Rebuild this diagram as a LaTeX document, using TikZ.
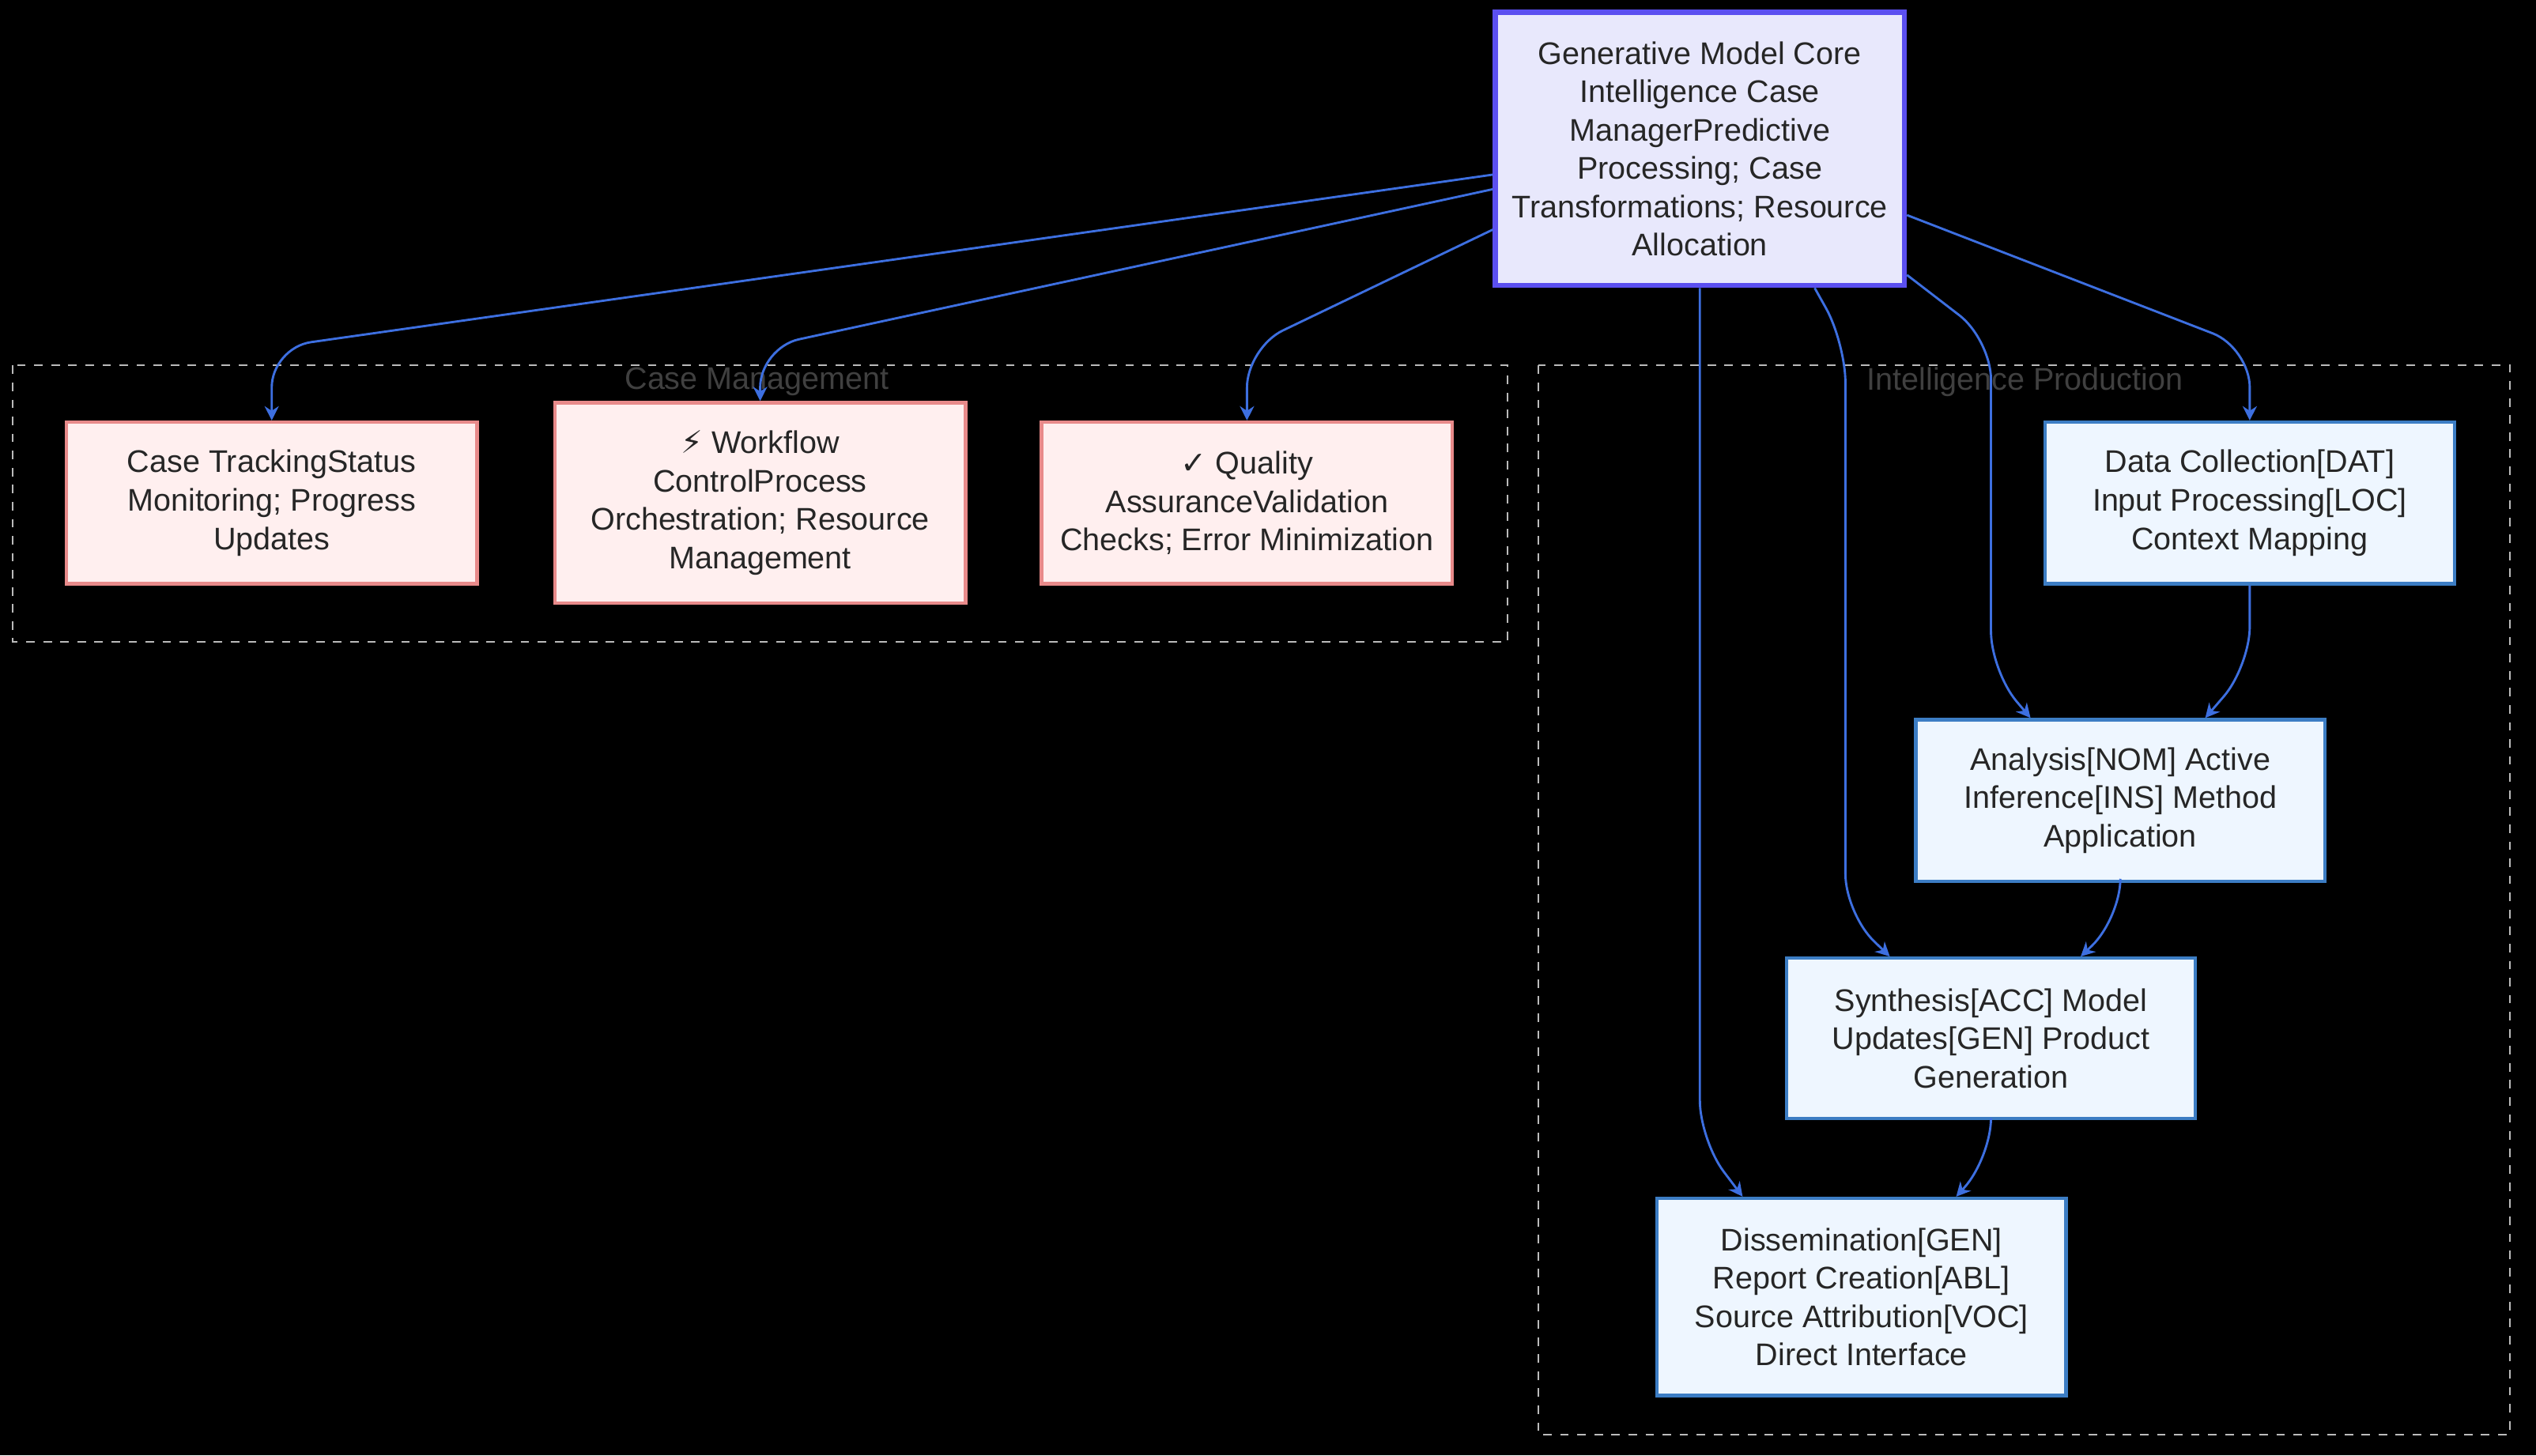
\documentclass[tikz,border=0pt]{standalone}
\usepackage{fontspec}
\setmainfont{Liberation Sans}
\newfontfamily\symfont{DejaVu Sans}
\usetikzlibrary{arrows.meta, calc, positioning}

\definecolor{coreFill}{HTML}{E8E8FC}
\definecolor{coreLine}{HTML}{5B4FF0}
\definecolor{caseFill}{HTML}{FFEFEF}
\definecolor{caseLine}{HTML}{E88A8A}
\definecolor{prodFill}{HTML}{EEF6FF}
\definecolor{prodLine}{HTML}{3C7DC4}
\definecolor{edgeCol}{HTML}{3D6FE0}
\definecolor{groupLine}{HTML}{BBBBBB}

\tikzset{
  box/.style={draw, line width=1.2pt, align=center, font=\fontsize{11}{13.5}\selectfont, text=black!85},
  core/.style={box, fill=coreFill, draw=coreLine, line width=1.8pt, minimum width=5.06cm, minimum height=3.38cm},
  case/.style={box, fill=caseFill, draw=caseLine, minimum width=5.08cm},
  prod/.style={box, fill=prodFill, draw=prodLine, minimum width=5.06cm},
  group/.style={draw=groupLine, dashed, line width=0.6pt},
  grouplabel/.style={text=black!75, font=\fontsize{11}{13}\selectfont},
  link/.style={draw=edgeCol, line width=0.8pt, -{Stealth[length=5pt,width=5pt]}, rounded corners=14pt},
}

\begin{document}
\begin{tikzpicture}[x=0.02cm, y=-0.02cm]

  \fill[black] (0,0) rectangle (1568,900);
  \useasboundingbox (0,0) rectangle (1568,900);

  % groups
  \draw[group] (8,226) rectangle (932,397);
  \node[grouplabel] (caseLabel) at (468,236) {Case Management};
  \draw[group] (951,226) rectangle (1552,887);
  \node[grouplabel] (prodLabel) at (1252,236) {Intelligence Production};

  % core
  \node[core] (core) at (1051,92) {Generative Model Core\\Intelligence Case\\ManagerPredictive\\Processing; Case\\Transformations; Resource\\Allocation};

  % case management
  \node[case, minimum height=2cm] (track) at (168,311) {Case TrackingStatus\\Monitoring; Progress\\Updates};
  \node[case, minimum height=2.48cm] (flow) at (470,311) {{\symfont ⚡} Workflow\\ControlProcess\\Orchestration; Resource\\Management};
  \node[case, minimum height=2cm] (quality) at (771,311) {{\symfont ✓} Quality\\AssuranceValidation\\Checks; Error Minimization};

  % intelligence production
  \node[prod, minimum height=2cm] (collect) at (1391,311) {Data Collection[DAT]\\Input Processing[LOC]\\Context Mapping};
  \node[prod, minimum height=2cm] (analysis) at (1311,495) {Analysis[NOM] Active\\Inference[INS] Method\\Application};
  \node[prod, minimum height=1.98cm] (synth) at (1231,642) {Synthesis[ACC] Model\\Updates[GEN] Product\\Generation};
  \node[prod, minimum height=2.44cm] (dissem) at (1151,802) {Dissemination[GEN]\\Report Creation[ABL]\\Source Attribution[VOC]\\Direct Interface};

  % links from core
  \draw[link] ($(core.west)+(0,16)$) -- (168,215) -- (track.north);
  \draw[link] ($(core.west)+(0,25)$) -- (470,215) -- (flow.north);
  \draw[link] ($(core.west)+(0,50)$) -- (771,215) -- (quality.north);
  \draw[link] ($(core.east)+(0,41)$) -- (1391,215) -- (collect.north);
  \draw[link] ($(core.east)+(0,78)$) -- (1231,210) -- (1231,415) -- ($(analysis.north west)+(72,0)$);
  \draw[link] ($(core.south)+(71,0)$) -- (1141,212) -- (1141,565) -- ($(synth.north west)+(65,0)$);
  \draw[link] (core.south) -- (1051,705) -- ($(dissem.north west)+(54,0)$);

  % chain
  \draw[link] (collect.south) -- (1391,412) -- ($(analysis.north west)+(180,0)$);
  \draw[link] (analysis.south) -- (1311,568) -- ($(synth.north west)+(183,0)$);
  \draw[link] (synth.south) -- (1231,716) -- ($(dissem.north west)+(186,0)$);

\end{tikzpicture}
\end{document}
